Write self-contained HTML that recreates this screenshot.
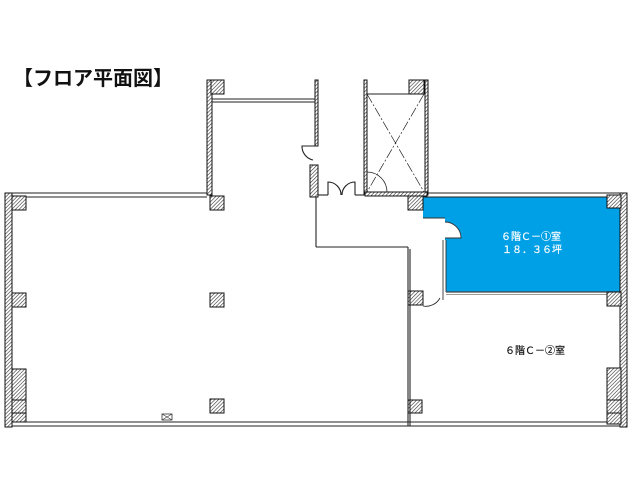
<!DOCTYPE html>
<html><head><meta charset="utf-8"><style>
html,body{margin:0;padding:0;background:#fff;width:640px;height:480px;overflow:hidden}
</style></head><body>
<svg width="640" height="480" viewBox="0 0 640 480" xmlns="http://www.w3.org/2000/svg">
<defs>
<pattern id="h" width="2.6" height="2.6" patternUnits="userSpaceOnUse" patternTransform="rotate(45)">
<rect width="2.6" height="2.6" fill="#fff"/><line x1="0" y1="0" x2="0" y2="2.6" stroke="#333" stroke-width="1.2"/>
</pattern>
</defs>
<text x="13" y="85" font-family="Liberation Sans, 'Noto Sans CJK JP', sans-serif" font-size="20" font-weight="bold" fill="#111" textLength="160">【フロア平面図】</text>

<!-- blue room -->
<path d="M423,197 L622,197 L622,292 L446,292 L446,240 L423,240 L423,218 L423,197 Z" fill="#00a0e6"/>
<rect x="423" y="218" width="22" height="22" fill="#fff"/>
<path d="M445,222 A16,16 0 0 1 461,238 L445,238" fill="#fff" stroke="#333" stroke-width="0.9"/>
<line x1="423" y1="218" x2="445" y2="218" stroke="#333" stroke-width="0.9"/>
<line x1="443" y1="240" x2="443" y2="300" stroke="#333" stroke-width="0.9"/>
<line x1="446" y1="240" x2="446" y2="292" stroke="#333" stroke-width="0.9"/>
<line x1="446" y1="292" x2="622" y2="292" stroke="#444" stroke-width="1.2"/>
<line x1="446" y1="294.5" x2="608" y2="294.5" stroke="#999" stroke-width="1"/>

<g fill="url(#h)" stroke="#111" stroke-width="1">
<rect x="5" y="193" width="7" height="234"/>
<rect x="620" y="193" width="7" height="234"/>
<rect x="207" y="80" width="5" height="115"/>
<rect x="315" y="80" width="3" height="66"/>
<rect x="310" y="165" width="8" height="32"/>
<rect x="364" y="80" width="3" height="115"/>
<rect x="425" y="80" width="3" height="115"/>
<rect x="365" y="192" width="62" height="4"/>
<rect x="12" y="196" width="14" height="14"/>
<rect x="12" y="293" width="14" height="14"/>
<rect x="12" y="369" width="14" height="53"/>
<rect x="210" y="196" width="14" height="14"/>
<rect x="210" y="293" width="14" height="14"/>
<rect x="210" y="399" width="14" height="14"/>
<rect x="211" y="80" width="13" height="14"/>
<rect x="409" y="80" width="15" height="14"/>
<rect x="408" y="196" width="15" height="14"/>
<rect x="408" y="291" width="15" height="14"/>
<rect x="408" y="400" width="14" height="13"/>
<rect x="607" y="195" width="14" height="13"/>
<rect x="607" y="292" width="14" height="14"/>
<rect x="607" y="368" width="14" height="56"/>
</g>
<rect x="12" y="400" width="14" height="13" fill="none" stroke="#111" stroke-width="1"/>
<rect x="607" y="400" width="14" height="13" fill="none" stroke="#111" stroke-width="1"/>

<g stroke="#222" fill="none" stroke-width="1.1">
<line x1="12" y1="193" x2="207" y2="193"/><line x1="26" y1="197" x2="207" y2="197"/>
<line x1="428" y1="193" x2="620" y2="193"/><line x1="423" y1="197" x2="607" y2="197"/>
<line x1="26" y1="422" x2="607" y2="422"/><line x1="12" y1="426" x2="620" y2="426"/>
<line x1="212" y1="99" x2="315" y2="99"/><line x1="212" y1="102" x2="315" y2="102"/>
<path d="M315,146 L302,146 A14,14 0 0 0 313,160"/>
<line x1="318" y1="195" x2="328" y2="195"/>
<line x1="355" y1="195" x2="365" y2="195"/>
<path d="M328,195 L328,182 A13,13 0 0 1 341,195 M355,195 L355,182 A13,13 0 0 0 342,195"/>
<line x1="316" y1="197" x2="316" y2="247"/>
<line x1="316" y1="247" x2="408" y2="247"/>
<line x1="408" y1="247" x2="408" y2="426"/>
<line x1="410" y1="249" x2="410" y2="426"/>
<line x1="367" y1="94" x2="409" y2="94"/>
<line x1="367" y1="94" x2="424" y2="192" stroke-dasharray="10,2,2,2" stroke-width="0.7"/>
<line x1="424" y1="94" x2="367" y2="192" stroke-dasharray="10,2,2,2" stroke-width="0.7"/>
<path d="M367,172 A20,20 0 0 1 387,192" stroke-width="0.8"/>
<path d="M423,306 A16,16 0 0 0 440,298" stroke-width="0.8"/>
</g>
<rect x="162" y="414" width="10" height="6" fill="#fff" stroke="#333" stroke-width="0.8"/>
<path d="M162,414 L172,420 M172,414 L162,420" stroke="#333" stroke-width="0.6"/>

<g font-family="Liberation Sans, 'Noto Sans CJK JP', sans-serif" font-size="10">
<text x="501" y="240" fill="#fff" stroke="#fff" stroke-width="0.2">６階Ｃ－①室</text>
<text x="502" y="253" fill="#fff" stroke="#fff" stroke-width="0.2">１８．３６坪</text>
<text x="505" y="354" fill="#111" stroke="#111" stroke-width="0.2">６階Ｃ－②室</text>
</g>
</svg>
</body></html>
